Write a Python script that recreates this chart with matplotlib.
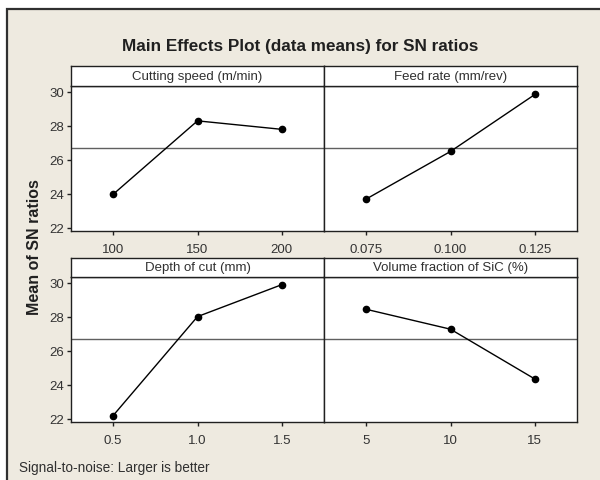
import numpy as np
import matplotlib.pyplot as plt
from matplotlib.patches import Rectangle

# Factor levels and mean SN ratios at each level
speed_levels = [100, 150, 200]
speed_sn = [23.98, 28.30, 27.80]

feed_levels = [0.075, 0.100, 0.125]
feed_labels = ['0.075', '0.100', '0.125']
feed_sn = [23.70, 26.50, 29.85]

depth_levels = [0.5, 1.0, 1.5]
depth_labels = ['0.5', '1.0', '1.5']
depth_sn = [22.20, 28.02, 29.90]

sic_levels = [5, 10, 15]
sic_labels = ['5', '10', '15']
sic_sn = [28.45, 27.28, 24.35]

titles = ['Cutting speed (m/min)', 'Feed rate (mm/rev)',
          'Depth of cut (mm)', 'Volume fraction of SiC (%)']

plt.rcParams['font.family'] = ['Liberation Sans', 'DejaVu Sans']

grand_mean = np.mean(speed_sn + feed_sn + depth_sn + sic_sn)

fig = plt.figure(figsize=(6.0, 4.81), dpi=100, facecolor='white')

# beige background with frame
W, H = 600.0, 481.0
fig.patches.append(Rectangle((7 / W, -0.1), 1.2, 1 - 10 / H + 0.1,
                             transform=fig.transFigure, facecolor='#eeeae0',
                             edgecolor='#303030', lw=1.6, zorder=-5))

tick_col = '#333333'
panels = [
    (speed_levels, [str(v) for v in speed_levels], speed_sn, 71, 87, True),
    (feed_levels, feed_labels, feed_sn, 324, 87, False),
    (depth_levels, depth_labels, depth_sn, 71, 278, True),
    (sic_levels, sic_labels, sic_sn, 324, 278, False),
]
strip_h = [20, 20, 19, 19]

for i, (lev, labs, vals, x0, y0, left) in enumerate(panels):
    ax = fig.add_axes([x0 / W, 1 - (y0 + 145) / H, 253 / W, 145 / H])
    ax.set_facecolor('white')
    step = lev[1] - lev[0]
    ax.axhline(grand_mean, color='#606060', lw=1.0, zorder=1)
    ax.plot(lev, vals, color='black', lw=1.0, marker='o', markersize=4.5,
            zorder=3)
    ax.set_xlim(lev[0] - step / 2, lev[-1] + step / 2)
    ax.set_ylim(21.82, 30.35)
    ax.set_xticks(lev)
    ax.set_xticklabels(labs)
    ax.set_yticks([22, 24, 26, 28, 30])
    ax.tick_params(direction='out', length=3, width=1, colors='#202020',
                   labelcolor=tick_col, labelsize=9.5, pad=6)
    if not left:
        ax.tick_params(axis='y', left=False, labelleft=False)
    else:
        ax.tick_params(axis='y', pad=2)
    for s in ax.spines.values():
        s.set_linewidth(1.0)
        s.set_color('#202020')

    sh = strip_h[i]
    sax = fig.add_axes([x0 / W, 1 - y0 / H, 253 / W, sh / H])
    sax.set_facecolor('white')
    sax.set_xticks([])
    sax.set_yticks([])
    for s in sax.spines.values():
        s.set_linewidth(1.0)
        s.set_color('#202020')
    sax.text(0.5, 0.5, titles[i], ha='center', va='center', fontsize=9.5,
             color='#303030', transform=sax.transAxes)

fig.text(300 / W, 1 - 47 / H, 'Main Effects Plot (data means) for SN ratios',
         ha='center', va='center', fontsize=12.3, fontweight='bold',
         color='#202020')
fig.text(35 / W, 1 - 247 / H, 'Mean of SN ratios', rotation=90,
         ha='center', va='center', fontsize=11.5, fontweight='bold',
         color='#202020')
fig.text(19 / W, 1 - 468 / H, 'Signal-to-noise: Larger is better',
         ha='left', va='center', fontsize=9.8, color='#303030')

fig.savefig('out.png', dpi=100)
